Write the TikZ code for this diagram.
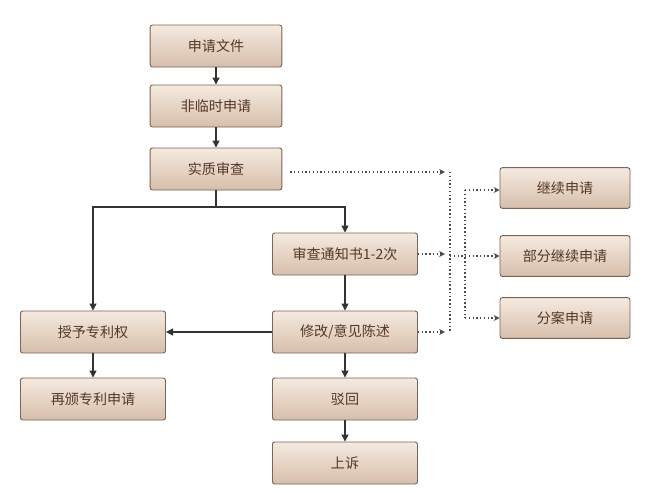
\documentclass[tikz,border=0pt]{standalone}
\usepackage{fontspec}
\setmainfont{Noto Sans CJK SC}
\usetikzlibrary{positioning,arrows.meta}
\definecolor{boxtop}{RGB}{245,234,224}
\definecolor{boxbot}{RGB}{214,190,170}
\definecolor{boxline}{RGB}{125,100,85}
\definecolor{txt}{RGB}{85,55,40}

\begin{document}
\begin{tikzpicture}[x=0.03cm, y=-0.03cm]
    \tikzstyle{stage} = [rectangle, rounded corners=2pt, minimum width=3.95cm, minimum height=1.26cm, text centered, draw=boxline, line width=0.8pt, top color=boxtop, bottom color=boxbot, text=txt, font=\fontsize{12}{14}\selectfont]
    \tikzstyle{wide} = [stage, minimum width=4.35cm]
    \tikzstyle{side} = [stage, minimum width=3.9cm, minimum height=1.22cm]
    \tikzstyle{flow} = [-{Triangle[length=6pt,width=6pt]}, line width=1pt, draw=black!80]
    \tikzstyle{hint} = [-{Stealth[length=5pt,width=5pt]}, dotted, line width=1.2pt, draw=black!70]

    \useasboundingbox (0,0) rectangle (650,492);

    % Main column
    \node [stage] (file) at (216,46) {申请文件};
    \node [stage] (nonprov) at (216,106) {非临时申请};
    \node [stage] (exam) at (216,169) {实质审查};

    % Office actions
    \node [wide] (notice) at (345,254) {审查通知书1-2次};
    \node [wide] (reply) at (345,332) {修改/意见陈述};
    \node [wide] (reject) at (345,399) {驳回};
    \node [wide] (appeal) at (345,463) {上诉};

    % Grant
    \node [wide] (grant) at (93,332) {授予专利权};
    \node [wide] (reissue) at (93,399) {再颁专利申请};

    % Continuations
    \node [side] (cont) at (565,188) {继续申请};
    \node [side] (cip) at (565,256) {部分继续申请};
    \node [side] (div) at (565,318) {分案申请};

    \coordinate (split) at (216,207);
    \coordinate (railA) at (450,172);
    \coordinate (railB) at (450,333);
    \coordinate (forkT) at (465,190);
    \coordinate (forkB) at (465,318);

    % Connections
    \draw [flow] (file) -- (nonprov);
    \draw [flow] (nonprov) -- (exam);
    \draw [line width=1pt, draw=black!80] (exam.south) -- (split);
    \draw [flow] (split) -| (grant.north);
    \draw [flow] (split) -| (notice.north);
    \draw [flow] (notice) -- (reply);
    \draw [flow] (reply) -- (reject);
    \draw [flow] (reject) -- (appeal);
    \draw [flow] (reply) -- (grant);
    \draw [flow] (grant) -- (reissue);

    % Dotted routes
    \draw [hint] (exam.east |- railA) ++(8,0) -- (445,172);
    \draw [hint] (notice.east) -- (445,254);
    \draw [hint] (reply.east) -- (445,332);
    \draw [dotted, line width=1.2pt, draw=black!70] (railA) -- (railB);
    \draw [hint] (450,256) -- (cip.west);
    \draw [dotted, line width=1.2pt, draw=black!70] (forkT) -- (forkB);
    \draw [hint] (forkT) -- (cont.west |- forkT);
    \draw [hint] (forkB) -- (div.west);
\end{tikzpicture}
\end{document}
